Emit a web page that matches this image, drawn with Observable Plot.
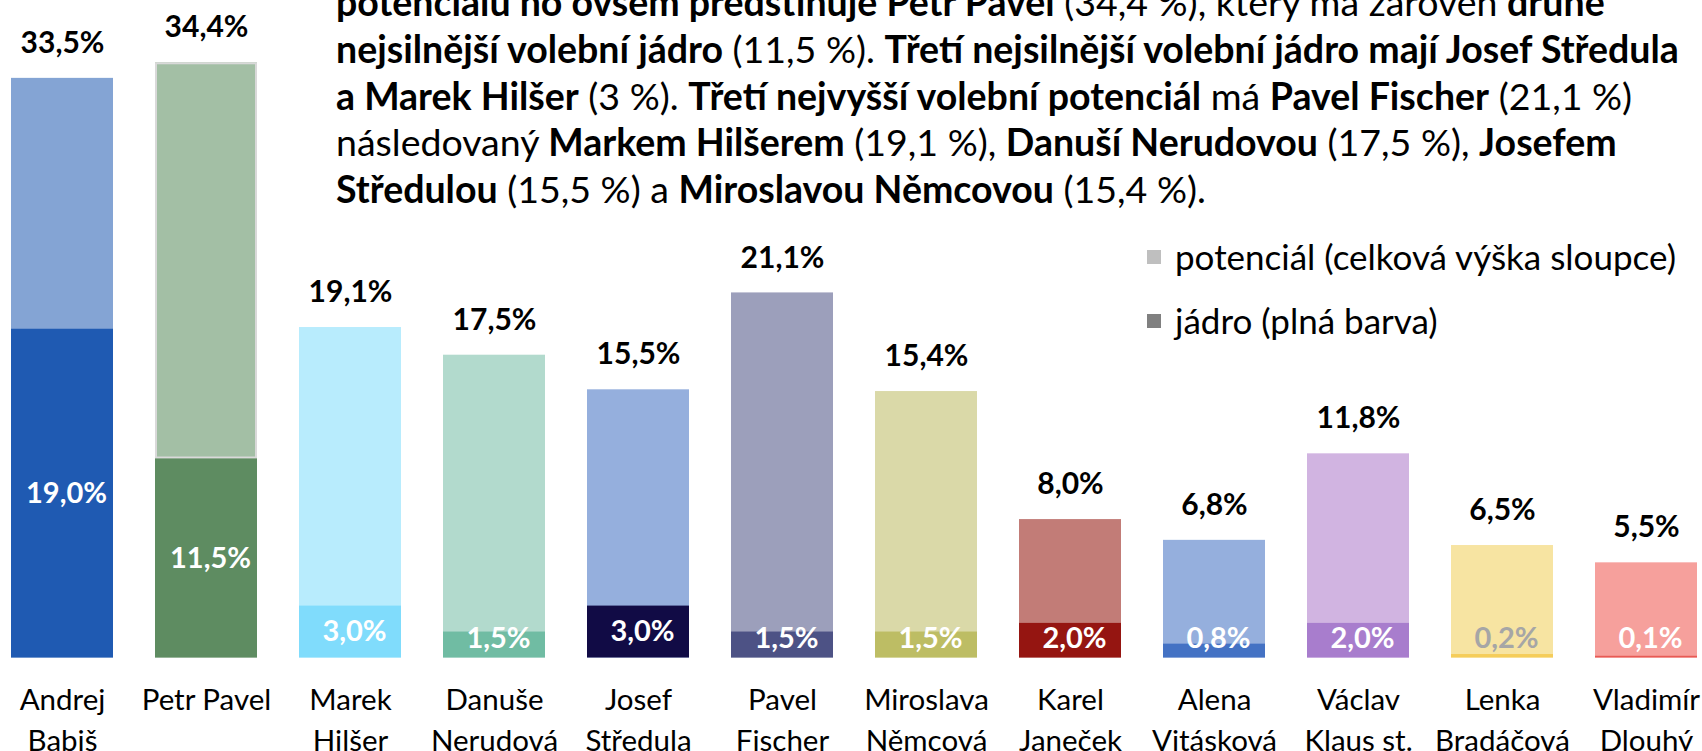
<!DOCTYPE html>
<html>
<head>
<meta charset="utf-8">
<script src="https://cdn.jsdelivr.net/npm/d3@7"></script>
<script src="https://cdn.jsdelivr.net/npm/@observablehq/plot@0.6"></script>
<style>
  html, body { margin: 0; padding: 0; background: #fff; }
  #wrap { position: relative; width: 1702px; height: 751px; overflow: hidden; font-family: Lato, "Open Sans", sans-serif; }
  #chart { position: absolute; left: 0; top: 0; }
  #para { position: absolute; left: 336px; top: -21px; font-size: 37.5px; line-height: 46.8px; white-space: nowrap; color: #000; }
  #para b { font-weight: 700; }
  .leg { position: absolute; left: 1147px; font-size: 35px; color: #000; white-space: nowrap; line-height: 1; }
  .leg span.sw { position: absolute; left: 0; width: 14px; height: 14px; }
  .leg span.tx { position: absolute; left: 28px; top: 0; }
</style>
</head>
<body>
<div id="wrap">
  <div id="chart"></div>
  <div id="para">
    <b>potenciálu ho ovšem předstihuje Petr Pavel</b> (34,4 %), který má zároveň <b>druhé</b><br>
    <b>nejsilnější volební jádro</b> (11,5 %). <b>Třetí nejsilnější volební jádro mají Josef Středula</b><br>
    <b>a Marek Hilšer</b> (3 %). <b>Třetí nejvyšší volební potenciál</b> má <b>Pavel Fischer</b> (21,1 %)<br>
    následovaný <b>Markem Hilšerem</b> (19,1 %), <b>Danuší Nerudovou</b> (17,5 %), <b>Josefem</b><br>
    <b>Středulou</b> (15,5 %) a <b>Miroslavou Němcovou</b> (15,4 %).
  </div>
  <div class="leg" style="top:239px;"><span class="sw" style="top:11px;background:#BFBFBF;"></span><span class="tx">potenciál (celková výška sloupce)</span></div>
  <div class="leg" style="top:303px;"><span class="sw" style="top:11px;background:#808080;"></span><span class="tx">jádro (plná barva)</span></div>
</div>
<script>
const names = ["Andrej Babiš", "Petr Pavel", "Marek Hilšer", "Danuše Nerudová", "Josef Středula", "Pavel Fischer", "Miroslava Němcová", "Karel Janeček", "Alena Vitásková", "Václav Klaus st.", "Lenka Bradáčová", "Vladimír Dlouhý"];
const tickLabels = ["Andrej\nBabiš", "Petr Pavel", "Marek\nHilšer", "Danuše\nNerudová", "Josef\nStředula", "Pavel\nFischer", "Miroslava\nNěmcová", "Karel\nJaneček", "Alena\nVitásková", "Václav\nKlaus st.", "Lenka\nBradáčová", "Vladimír\nDlouhý"];
const potential = [33.5, 34.4, 19.1, 17.5, 15.5, 21.1, 15.4, 8.0, 6.8, 11.8, 6.5, 5.5];
const core = [19.0, 11.5, 3.0, 1.5, 3.0, 1.5, 1.5, 2.0, 0.8, 2.0, 0.2, 0.1];
const lightColors = ["#84A4D4", "#A3BFA5", "#B8ECFD", "#B2DACD", "#95AFDD", "#9C9FBB", "#DAD9A8", "#C27C77", "#95AFDD", "#D1B4E1", "#F7E4A2", "#F6A09C"];
const darkColors = ["#1F5AB2", "#5E8C61", "#80DCFC", "#70BCA3", "#110B45", "#4D5285", "#BDBD64", "#951511", "#4472C4", "#A87DCD", "#F5CD5A", "#E85A55"];

const data = names.map((name, i) => ({
  name, label: tickLabels[i], pot: potential[i], core: core[i],
  light: lightColors[i], dark: darkColors[i]
}));
const labelMap = new Map(data.map(d => [d.name, d.label]));
const fmt = v => v.toFixed(1).replace(".", ",") + "%";
const FONT = "Lato, 'Open Sans', sans-serif";

const chart = Plot.plot({
  width: 1702,
  height: 751,
  marginTop: 0,
  marginBottom: 93.5,
  marginLeft: 11,
  marginRight: 4,
  style: { fontFamily: FONT, background: "transparent" },
  x: { domain: names, paddingInner: 0.29, paddingOuter: 0, axis: null },
  y: { domain: [0, 38], axis: null },
  marks: [
    Plot.barY(data, { x: "name", y: "pot", fill: "light" }),
    Plot.barY(data.filter(d => d.name === "Petr Pavel"), { x: "name", y1: "core", y2: "pot", fill: "none", stroke: "#D9D9D9", strokeWidth: 2, inset: 1 }),
    Plot.barY(data, { x: "name", y: "core", fill: "dark" }),
    Plot.text(data, { x: "name", y: "pot", text: d => fmt(d.pot), dy: -35, fontSize: 30, fontWeight: "bold", fill: "#000", fontFamily: FONT }),
    Plot.text(data, { x: "name", y: d => Math.max(d.core / 2, 1.1), text: d => fmt(d.core), dx: 4, fontSize: 29, fontWeight: "bold",
      fill: d => d.name === "Lenka Bradáčová" ? "#A6A6A6" : "#FFFFFF", fontFamily: FONT }),
    Plot.axisX({ tickSize: 0, tickPadding: 23, fontSize: 29.5, lineHeight: 1.39, label: null, tickFormat: d => labelMap.get(d), fill: "#000", fontFamily: FONT })
  ]
});
document.getElementById("chart").appendChild(chart);
</script>
</body>
</html>
